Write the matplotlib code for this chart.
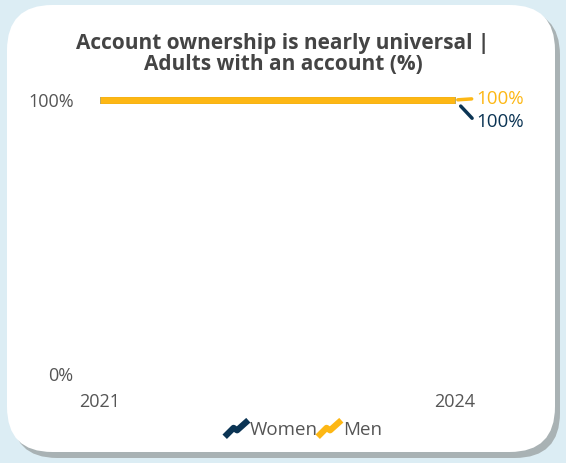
import matplotlib.pyplot as plt
from matplotlib.patches import FancyBboxPatch
from matplotlib.lines import Line2D
from matplotlib.path import Path

plt.rcParams['font.family'] = ['Open Sans', 'DejaVu Sans']

years = [2021, 2024]
women = [100, 100]
men = [100, 100]
navy = '#0b3454'
yellow = '#fdb714'
grey = '#555555'

W, H = 566, 463
fig = plt.figure(figsize=(W / 100, H / 100), dpi=100)
fig.patch.set_facecolor('#dcedf4')

# card with shadow
shadow = FancyBboxPatch((12 / W, 1 - 458 / H), 548 / W, 448 / H,
                        boxstyle='round,pad=0,rounding_size=0.08',
                        transform=fig.transFigure, facecolor='#a9b2b4',
                        edgecolor='none', mutation_aspect=W / H, zorder=-2)
card = FancyBboxPatch((7 / W, 1 - 452 / H), 548 / W, 447 / H,
                      boxstyle='round,pad=0,rounding_size=0.08',
                      transform=fig.transFigure, facecolor='white',
                      edgecolor='none', mutation_aspect=W / H, zorder=-1)
fig.patches.extend([shadow, card])

ax = fig.add_axes([100 / W, 1 - 374 / H, 355 / W, 274 / H])
ax.set_zorder(3)
ax.set_facecolor('none')
ax.plot(years, women, color=navy, lw=5, solid_capstyle='butt', clip_on=False)
ax.plot(years, men, color=yellow, lw=5, solid_capstyle='butt', clip_on=False)
ax.set_xlim(2021, 2024)
ax.set_ylim(0, 100)
for s in ax.spines.values():
    s.set_visible(False)
ax.set_yticks([0, 100])
ax.set_yticklabels(['0%', '100%'])
ax.set_xticks(years)
ax.set_xticklabels([str(y) for y in years])
ax.tick_params(length=0, labelsize=13, labelcolor=grey)
ax.tick_params(axis='y', pad=19)
ax.tick_params(axis='x', pad=14)

# end labels with small connectors
ax.annotate(f'{men[-1]:.0f}%', xy=(years[-1], men[-1]), xytext=(15, 1),
            textcoords='offset points', color=yellow, fontsize=13.5,
            va='center', ha='left',
            arrowprops=dict(arrowstyle='-', color=yellow, lw=2.5,
                            shrinkA=1, shrinkB=2, relpos=(0, 0.5)))
ax.annotate(f'{women[-1]:.0f}%', xy=(years[-1], women[-1]), xytext=(15, -16),
            textcoords='offset points', color=navy, fontsize=13.5,
            va='center', ha='left',
            arrowprops=dict(arrowstyle='-', color=navy, lw=2.5,
                            shrinkA=1, shrinkB=6, relpos=(0, 0.5)))

fig.text(283 / W, 1 - 54 / H,
         'Account ownership is nearly universal |\nAdults with an account (%)',
         ha='center', va='center', fontsize=15, fontweight='bold',
         color='#444444', linespacing=1.0)

zig = Path([(-1, -0.7), (-0.25, 0.05), (0.05, -0.15), (1, 0.7)])
handles = [Line2D([], [], marker=zig, color=c, markersize=17, mew=4.5,
                  fillstyle='none', linestyle='none') for c in (navy, yellow)]
fig.legend(handles, ['Women', 'Men'], loc='center', bbox_to_anchor=(304 / W, 1 - 430 / H),
           ncol=2, frameon=False, fontsize=13.5, labelcolor=grey,
           handletextpad=0.25, columnspacing=0.1, handlelength=1.0)

fig.savefig('out.png', dpi=100)
